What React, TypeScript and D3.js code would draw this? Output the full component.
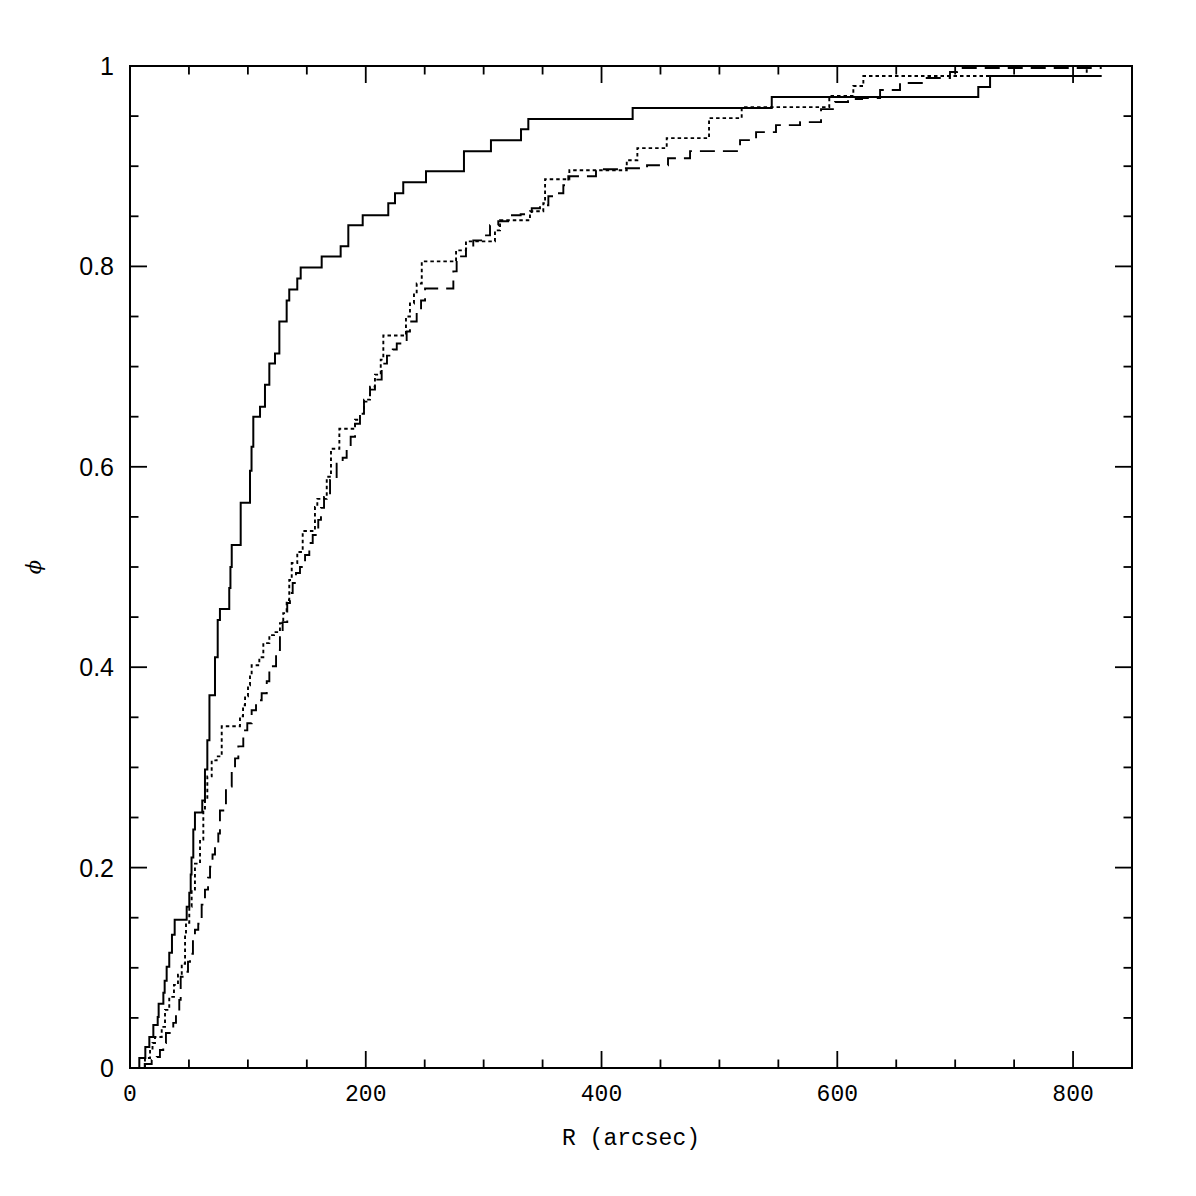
import React from 'react';
import * as d3 from 'd3';

// cumulative fractions: [R (arcsec), phi] at each step
const solidSteps: [number, number][] = [
  [7.9, 0.010], [13.0, 0.021], [16.4, 0.031], [19.8, 0.043], [23.5, 0.051], [24.3, 0.064],
  [28.3, 0.075], [29.4, 0.087], [31.1, 0.101], [33.3, 0.115], [35.6, 0.133], [37.9, 0.148],
  [48.1, 0.161], [50.3, 0.175], [51.5, 0.193], [52.2, 0.210], [53.7, 0.238], [55.1, 0.255],
  [61.3, 0.267], [63.6, 0.298], [65.6, 0.327], [67.4, 0.372], [72.1, 0.410], [74.4, 0.447],
  [76.3, 0.458], [84.2, 0.479], [85.2, 0.500], [86.3, 0.522], [93.9, 0.564], [101.8, 0.596],
  [103.1, 0.620], [104.6, 0.650], [110.3, 0.660], [114.5, 0.682], [118.2, 0.703], [123.0, 0.713],
  [126.7, 0.745], [132.9, 0.766], [135.1, 0.777], [141.9, 0.788], [144.8, 0.799], [162.6, 0.810],
  [178.7, 0.820], [185.2, 0.841], [197.4, 0.851], [219.1, 0.863], [224.8, 0.873], [231.8, 0.884],
  [251.1, 0.895], [283.3, 0.915], [306.2, 0.926], [331.7, 0.937], [337.9, 0.947], [426.4, 0.958],
  [544.4, 0.969], [719.6, 0.979], [729.6, 0.990], [824.3, 0.990],
];

const dottedSteps: [number, number][] = [
  [12.7, 0.010], [17.0, 0.018], [19.1, 0.025], [21.2, 0.031], [26.9, 0.041], [29.7, 0.058],
  [33.3, 0.071], [37.3, 0.083], [40.7, 0.093], [43.9, 0.104], [46.7, 0.134], [47.5, 0.145],
  [50.3, 0.161], [52.3, 0.178], [55.1, 0.204], [59.4, 0.228], [62.2, 0.257], [63.6, 0.267],
  [65.6, 0.291], [69.3, 0.307], [73.5, 0.311], [77.8, 0.341], [93.3, 0.351], [95.9, 0.362],
  [97.6, 0.371], [100.1, 0.382], [101.8, 0.392], [103.2, 0.402], [109.7, 0.410], [113.1, 0.424],
  [118.2, 0.432], [122.2, 0.435], [127.2, 0.444], [130.0, 0.454], [132.9, 0.467], [135.1, 0.487],
  [137.2, 0.504], [141.9, 0.515], [146.5, 0.536], [156.9, 0.560], [158.9, 0.568], [166.9, 0.590],
  [170.5, 0.618], [177.6, 0.638], [190.9, 0.647], [195.1, 0.653], [198.5, 0.667], [203.6, 0.680],
  [207.8, 0.692], [212.7, 0.707], [214.9, 0.731], [234.1, 0.750], [237.5, 0.763], [240.9, 0.773],
  [243.2, 0.783], [247.5, 0.805], [276.6, 0.816], [285.0, 0.825], [309.6, 0.836], [313.9, 0.846],
  [339.3, 0.855], [350.6, 0.863], [352.1, 0.887], [372.7, 0.896], [421.4, 0.906], [430.4, 0.918],
  [455.3, 0.928], [491.2, 0.948], [518.9, 0.959], [593.2, 0.970], [613.6, 0.980], [622.1, 0.990],
  [811.6, 1.0], [824.3, 1.0],
];

const dashedSteps: [number, number][] = [
  [12.5, 0.004], [18.4, 0.008], [22.7, 0.011], [25.4, 0.018], [28.2, 0.025], [30.5, 0.035],
  [36.7, 0.045], [39.0, 0.056], [41.8, 0.068], [43.0, 0.091], [47.5, 0.096], [49.2, 0.106],
  [50.9, 0.114], [53.4, 0.128], [55.1, 0.138], [57.9, 0.144], [60.8, 0.163], [63.6, 0.178],
  [66.2, 0.190], [67.9, 0.201], [70.0, 0.213], [72.1, 0.224], [74.9, 0.234], [76.3, 0.257],
  [81.4, 0.281], [86.3, 0.297], [89.1, 0.309], [91.9, 0.321], [96.1, 0.337], [99.5, 0.344],
  [103.2, 0.357], [106.9, 0.367], [111.7, 0.374], [116.0, 0.386], [118.2, 0.401], [123.9, 0.417],
  [127.2, 0.430], [129.5, 0.445], [133.4, 0.464], [135.7, 0.474], [138.0, 0.484], [140.8, 0.494],
  [144.2, 0.500], [148.5, 0.512], [152.1, 0.524], [155.0, 0.532], [159.7, 0.547], [162.0, 0.559],
  [164.6, 0.570], [169.7, 0.587], [175.3, 0.603], [180.4, 0.609], [183.8, 0.620], [187.2, 0.630],
  [190.9, 0.643], [195.1, 0.653], [198.5, 0.665], [203.6, 0.677], [207.8, 0.687], [213.5, 0.703],
  [218.0, 0.711], [222.9, 0.717], [226.3, 0.723], [234.7, 0.735], [237.5, 0.745], [243.2, 0.756],
  [246.9, 0.766], [250.3, 0.778], [274.3, 0.795], [277.1, 0.810], [285.0, 0.818], [291.2, 0.826],
  [299.7, 0.831], [305.4, 0.841], [312.4, 0.845], [322.4, 0.851], [331.4, 0.852], [340.8, 0.858],
  [347.8, 0.861], [354.9, 0.870], [360.5, 0.873], [367.6, 0.881], [371.8, 0.890], [395.3, 0.897],
  [417.4, 0.898], [438.6, 0.901], [456.4, 0.908], [475.1, 0.915], [517.5, 0.926], [531.1, 0.934],
  [548.0, 0.941], [568.4, 0.944], [586.2, 0.957], [598.1, 0.964], [609.1, 0.967], [621.0, 0.968],
  [636.3, 0.976], [653.2, 0.983], [674.4, 0.988], [695.6, 0.994], [701.6, 0.998], [824.3, 0.998],
];

const xMajor = [0, 200, 400, 600, 800];
const yMajor = [0, 0.2, 0.4, 0.6, 0.8, 1];
const yLabels = ['0', '0.2', '0.4', '0.6', '0.8', '1'];

const W = 1196;
const H = 1196;
const M = { top: 66, right: 64, bottom: 128, left: 130 };

export default function App() {
  const x = d3.scaleLinear().domain([0, 850]).range([M.left, W - M.right]);
  const y = d3.scaleLinear().domain([0, 1]).range([H - M.bottom, M.top]);
  const x0 = M.left, x1 = W - M.right, y0 = H - M.bottom, y1 = M.top;

  const line = d3.line<[number, number]>()
    .x(d => x(d[0]))
    .y(d => y(d[1]))
    .curve(d3.curveStepAfter);
  const withStart = (s: [number, number][]) => [[s[0][0], 0] as [number, number], ...s];

  const xMinor = d3.range(0, 851, 50);
  const yMinor = d3.range(0, 1.0001, 0.05);
  const major = 17, minor = 8.5;

  return (
    <svg width={W} height={H} style={{ position: 'absolute', left: 0, top: 0, background: '#fff' }}>
      {/* ticks on all four sides, pointing in */}
      <g stroke="#000" strokeWidth={1.8}>
        {xMinor.map(v => {
          const len = xMajor.includes(v) ? major : minor;
          return (
            <g key={'x' + v}>
              <line x1={x(v)} x2={x(v)} y1={y0} y2={y0 - len} />
              <line x1={x(v)} x2={x(v)} y1={y1} y2={y1 + len} />
            </g>
          );
        })}
        {yMinor.map((v, i) => {
          const len = i % 4 === 0 ? major : minor;
          return (
            <g key={'y' + i}>
              <line x1={x0} x2={x0 + len} y1={y(v)} y2={y(v)} />
              <line x1={x1} x2={x1 - len} y1={y(v)} y2={y(v)} />
            </g>
          );
        })}
      </g>

      <path d={line(withStart(solidSteps)) ?? ''} fill="none" stroke="#000" strokeWidth={2} />
      <path d={line(withStart(dottedSteps)) ?? ''} fill="none" stroke="#000" strokeWidth={1.9}
        strokeDasharray="3.5,3" />
      <path d={line(withStart(dashedSteps)) ?? ''} fill="none" stroke="#000" strokeWidth={1.9}
        strokeDasharray="15,8" />

      <rect x={x0} y={y1} width={x1 - x0} height={y0 - y1} fill="none" stroke="#000" strokeWidth={2} />

      {xMajor.map(v => (
        <text key={'xl' + v} x={x(v)} y={y0 + 33} textAnchor="middle"
          fontFamily="'Liberation Mono', monospace" fontSize={23} fill="#000">{v}</text>
      ))}
      {yMajor.map((v, i) => (
        <text key={'yl' + i} x={x0 - 16} y={y(v) + 9} textAnchor="end"
          fontFamily="'Liberation Sans', sans-serif" fontSize={25} fill="#000">{yLabels[i]}</text>
      ))}

      <text x={631} y={1145} textAnchor="middle" fontFamily="'Liberation Mono', monospace"
        fontSize={23} fill="#000">R (arcsec)</text>
      <text transform={`translate(41,${y(0.5)}) rotate(-90)`} textAnchor="middle"
        fontFamily="'DejaVu Serif', serif" fontStyle="italic" fontSize={21} fill="#000">ϕ</text>
    </svg>
  );
}
